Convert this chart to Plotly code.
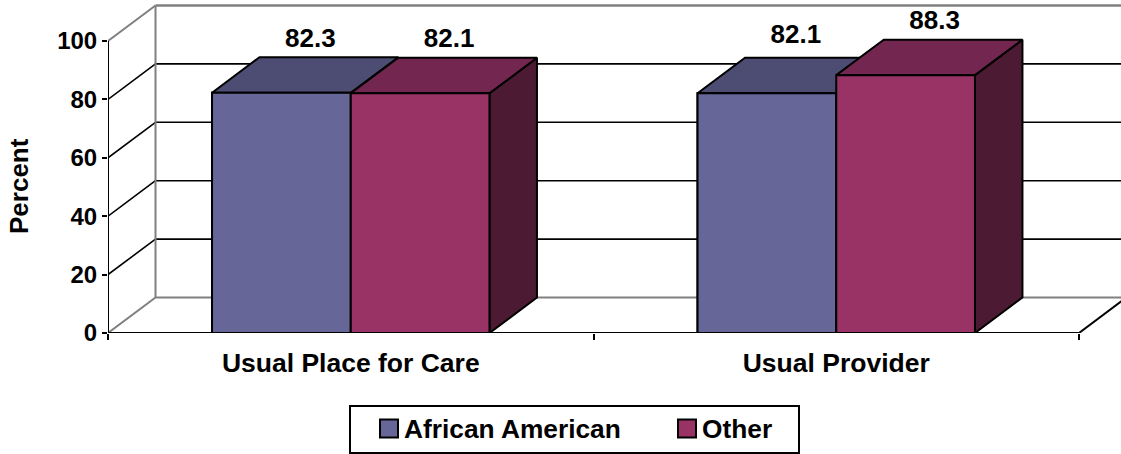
import plotly.graph_objects as go

categories = ["Usual Place for Care", "Usual Provider"]
series_names = ["African American", "Other"]
african_american = [82.3, 82.1]
other = [82.1, 88.3]
y_ticks = [0, 20, 40, 60, 80, 100]

W, H = 1121, 454
L, B = 108, 121
PX_X = 485.5          # pixels per category
PX_Y = 2.92           # pixels per percent
DX = 47.5 / PX_X      # oblique depth in x units
DY = 35.5 / PX_Y      # oblique depth in y units
XMAX = (W - L) / PX_X
YMAX = (H - B) / PX_Y
BAR_W = 1 / 3.5
FONT = "Arial, Liberation Sans, sans-serif"
FS = 26
bold = dict(family=FONT, size=FS, color="#000000", weight="bold")

front_colors = ["#666699", "#993366"]
top_colors = ["#4d4d73", "#732650"]
side_colors = ["#4d4d73", "#4d1a33"]

fig = go.Figure()


def wall(x, y, color, width, layer="below"):
    fig.add_shape(type="line", xref="x", yref="y", x0=x[0], y0=y[0], x1=x[1], y1=y[1],
                  line=dict(color=color, width=width), layer=layer)


# gridlines on side wall and back wall
for t in y_ticks[1:-1]:
    wall([0, DX], [t, t + DY], "#000000", 1.6)
    wall([DX, XMAX], [t + DY, t + DY], "#000000", 1.6)
# gray frame
wall([0, DX], [0, DY], "#808080", 2)
wall([DX, XMAX], [DY, DY], "#808080", 2)
wall([DX, DX], [DY, 100 + DY], "#808080", 2)
wall([0, DX], [100, 100 + DY], "#808080", 2)
wall([DX, XMAX], [100 + DY, 100 + DY], "#808080", 2.5)
# right floor edge, front floor edge and value axis line
wall([2, 2 + DX], [0, DY], "#000000", 2)
wall([0, 2], [0, 0], "#000000", 2.2, "above")
wall([0, 0], [0, 100], "#000000", 2, "above")

# native bars
for i, (name, vals) in enumerate(zip(series_names, [african_american, other])):
    fig.add_bar(x=[0.5, 1.5], y=vals, name=name, showlegend=False, hoverinfo="skip",
                width=BAR_W, offset=BAR_W * (i - 1),
                marker=dict(color=front_colors[i], line=dict(color="#000000", width=2)))


def poly(xs, ys, color):
    fig.add_scatter(x=xs, y=ys, mode="lines", fill="toself", fillcolor=color,
                    line=dict(color="#000000", width=2), showlegend=False, hoverinfo="skip")


# oblique faces: left-to-right so nearer neighbours overlap correctly
for g in range(2):
    for i, vals in enumerate([african_american, other]):
        v = vals[g]
        x0 = g + 0.5 + BAR_W * (i - 1)
        x1 = x0 + BAR_W
        poly([x1, x1 + DX, x1 + DX, x1, x1], [0, DY, v + DY, v, 0], side_colors[i])
        poly([x0, x0 + DX, x1 + DX, x1, x0], [v, v + DY, v + DY, v, v], top_colors[i])
        poly([x0, x1, x1, x0, x0], [0, 0, v, v, 0], front_colors[i])

# value labels
label_lift = [[18.0, 18.2], [19.5, 18.0]]
label_shift = 29 / PX_X
for i, vals in enumerate([african_american, other]):
    fig.add_scatter(
        x=[g + 0.5 + BAR_W * (i - 0.5) + label_shift for g in range(2)],
        y=[vals[g] + label_lift[g][i] for g in range(2)],
        mode="text", text=[f"{v:.1f}" for v in vals], textposition="middle center",
        textfont=bold, showlegend=False, hoverinfo="skip", cliponaxis=False)


def px(x):
    return (x - L) / (W - L)


def py(y):
    return (H - B - y) / (H - B)


# legend box, swatches and names
fig.add_shape(type="rect", xref="paper", yref="paper", x0=px(350), x1=px(799),
              y0=py(453), y1=py(406), line=dict(color="#000000", width=2), fillcolor="#ffffff")
swatch_left = [380, 678]
for i, name in enumerate(series_names):
    fig.add_shape(type="rect", xref="paper", yref="paper",
                  x0=px(swatch_left[i]), x1=px(swatch_left[i] + 18), y0=py(437.5), y1=py(419.5),
                  fillcolor=front_colors[i], line=dict(color="#000000", width=2))
    fig.add_annotation(xref="paper", yref="paper", x=px(swatch_left[i] + 24), y=py(429),
                       xanchor="left", yanchor="middle", showarrow=False, text=name,
                       font=dict(family=FONT, size=26.3, color="#000000", weight="bold"),
                       borderpad=0, borderwidth=0)

# value axis title
fig.add_annotation(xref="paper", yref="paper", x=px(19), y=py(186), textangle=-90,
                   xanchor="center", yanchor="middle", showarrow=False, text="Percent", font=bold)

fig.update_layout(
    width=W, height=H, autosize=False,
    margin=dict(l=L, r=0, t=0, b=B),
    paper_bgcolor="#ffffff", plot_bgcolor="#ffffff",
    font=bold,
    barmode="overlay",
    showlegend=False,
    xaxis=dict(range=[0, XMAX], showgrid=False, zeroline=False, showline=False,
               tickmode="array", tickvals=[0.5, 1.5], ticktext=categories, ticks="",
               minor=dict(tickmode="array", tickvals=[0, 1, 2], ticks="outside", ticklen=6,
                          tickwidth=2, tickcolor="#000000"),
               tickfont=dict(family=FONT, size=26.5, color="#000000", weight="bold"),
               ticklabelstandoff=11),
    yaxis=dict(range=[0, YMAX], showgrid=False, zeroline=False, showline=False,
               tickmode="array", tickvals=y_ticks, ticks="outside", ticklen=5, tickwidth=2,
               tickcolor="#000000",
               tickfont=dict(family=FONT, size=24, color="#000000", weight="bold")),
)

fig.write_html("out.html", config={"displayModeBar": False},
               post_script="document.body.style.margin='0';")
